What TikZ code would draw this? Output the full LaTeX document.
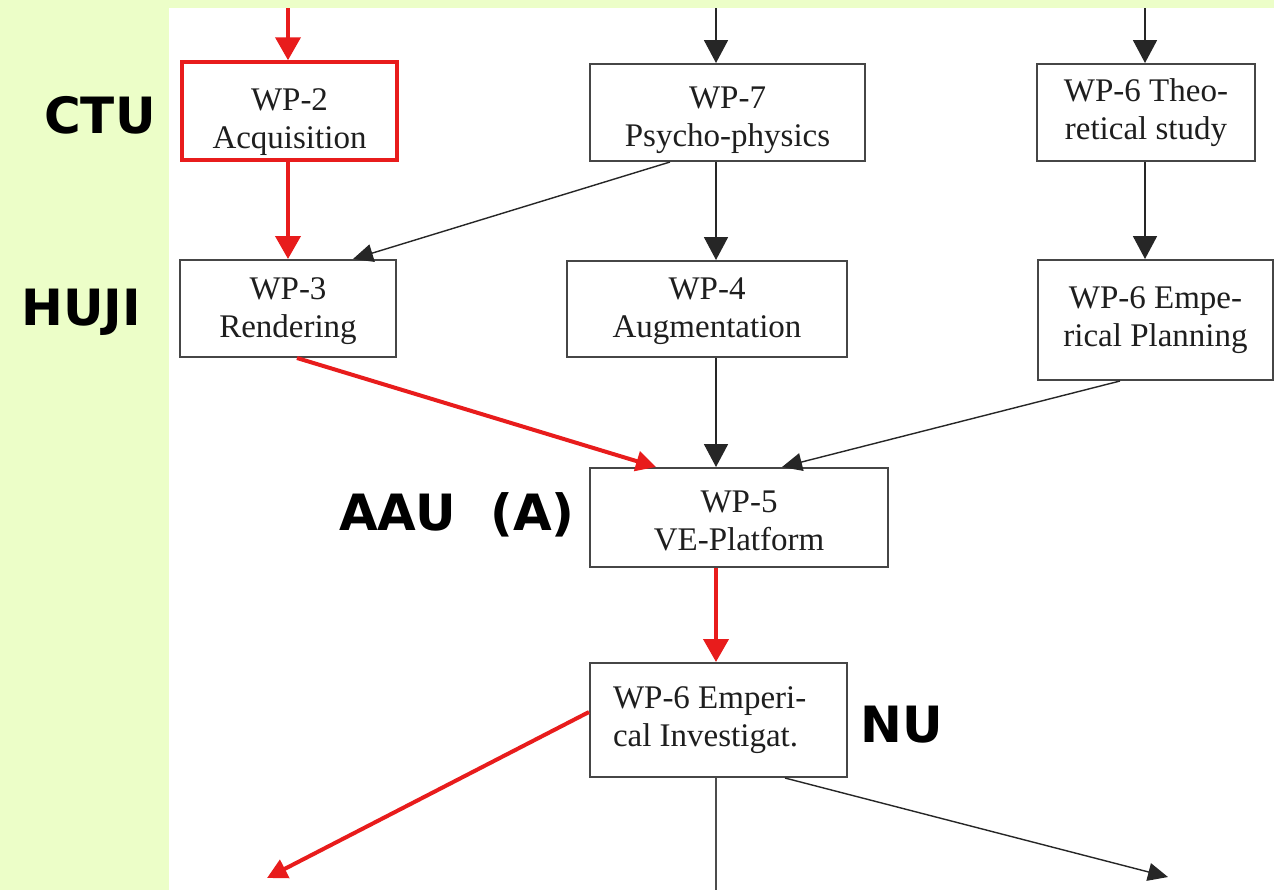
\documentclass[tikz,border=0pt]{standalone}
\usepackage{fontspec}
\setmainfont{Liberation Serif}
\newfontfamily\labfont{DejaVu Sans}
\usetikzlibrary{arrows.meta}
\definecolor{bggreen}{RGB}{236,254,200}
\definecolor{wpred}{RGB}{232,28,28}
\definecolor{boxgray}{RGB}{70,70,70}
\definecolor{txtgray}{RGB}{30,30,30}
\newcommand{\lowby}[1]{\rule{0pt}{#1}}
\begin{document}
\begin{tikzpicture}[x=0.5pt,y=-0.5pt,
  wpbox/.style={draw=boxgray,line width=1pt,fill=white,align=center,
    font=\fontsize{16.5}{19}\selectfont,text=txtgray,inner sep=0pt},
  redbox/.style={wpbox,draw=wpred,line width=1.75pt},
  blk/.style={draw=black!85,line width=0.9pt,-{Triangle[length=11.5pt,width=12pt]}},
  blkd/.style={draw=black!85,line width=0.7pt,-{Triangle[length=10pt,width=9pt]}},
  redv/.style={draw=wpred,line width=2pt,-{Triangle[length=11.5pt,width=12.5pt]}},
  redd/.style={draw=wpred,line width=2pt,-{Triangle[length=10pt,width=10pt]}},
  plain/.style={draw=black!70,line width=0.9pt},
  org/.style={font=\labfont\bfseries\fontsize{25}{25}\selectfont,anchor=base}]
\useasboundingbox (0,0) rectangle (1274,890);
\fill[bggreen] (0,0) rectangle (1274,890);
\fill[white] (169,8) rectangle (1274,890);

% boxes
\node[redbox,minimum width=107.5pt,minimum height=49pt] (wp2) at (289.5,111) {\lowby{22pt}WP-2\\Acquisition};
\node[wpbox,minimum width=137.5pt,minimum height=48.5pt] (wp7) at (727.5,112.5) {\lowby{18.5pt}WP-7\\Psycho-physics};
\node[wpbox,minimum width=109pt,minimum height=48.5pt] (wp6t) at (1146,112.5) {WP-6 Theo-\\retical study};
\node[wpbox,minimum width=108pt,minimum height=48.5pt] (wp3) at (288,308.5) {\lowby{13.5pt}WP-3\\Rendering};
\node[wpbox,minimum width=140pt,minimum height=48pt] (wp4) at (707,309) {\lowby{13.5pt}WP-4\\Augmentation};
\node[wpbox,minimum width=117.5pt,minimum height=60pt] (wp6p) at (1155.5,320) {WP-6 Empe-\\rical Planning};
\node[wpbox,minimum width=149pt,minimum height=49.5pt] (wp5) at (739,517.5) {\lowby{14.5pt}WP-5\\VE-Platform};
\node[wpbox,minimum height=57pt,align=flush left,text width=105.5pt,inner xsep=11.5pt] (wp6i) at (718.5,720) {WP-6 Emperi-\\cal Investigat.};

% helper coordinates
\coordinate (xa) at (288,0);
\coordinate (xb) at (716,0);
\coordinate (xc) at (1145,0);
\coordinate (ta) at (288,8);
\coordinate (tb) at (716,8);
\coordinate (tc) at (1145,8);
\coordinate (bot) at (716,890);
\coordinate (endL) at (267,878);
\coordinate (endR) at (1168,877);
\coordinate (x670) at (670,0);
\coordinate (x353) at (353,0);
\coordinate (x297) at (297,0);
\coordinate (x656) at (656,0);
\coordinate (x1120) at (1120,0);
\coordinate (x782) at (782,0);
\coordinate (x785) at (785,0);
\coordinate (y712) at (0,712);

% vertical connectors
\draw[redv] (ta) -- (wp2.north -| xa);
\draw[blk] (tb) -- (wp7.north -| xb);
\draw[blk] (tc) -- (wp6t.north -| xc);
\draw[redv] (wp2.south -| xa) -- (wp3.north -| xa);
\draw[blk] (wp7.south -| xb) -- (wp4.north -| xb);
\draw[blk] (wp6t.south -| xc) -- (wp6p.north -| xc);
\draw[blk] (wp4.south -| xb) -- (wp5.north -| xb);
\draw[redv] (wp5.south -| xb) -- (wp6i.north -| xb);
\draw[plain] (wp6i.south -| xb) -- (bot);

% diagonal connectors
\draw[blkd] (wp7.south -| x670) -- (wp3.north -| x353);
\draw[redd] (wp3.south -| x297) -- (wp5.north -| x656);
\draw[blkd] (wp6p.south -| x1120) -- (wp5.north -| x782);
\draw[redd] (wp6i.west |- y712) -- (endL);
\draw[blkd] (wp6i.south -| x785) -- (endR);

% partner labels
\node[org] (ctu) at (100,133) {CTU};
\node[org] (huji) at (81,325) {HUJI};
\node[org] (aau) at (457,530) {AAU\ \ (A)};
\node[org] (nu) at (902,742) {NU};
\end{tikzpicture}
\end{document}
